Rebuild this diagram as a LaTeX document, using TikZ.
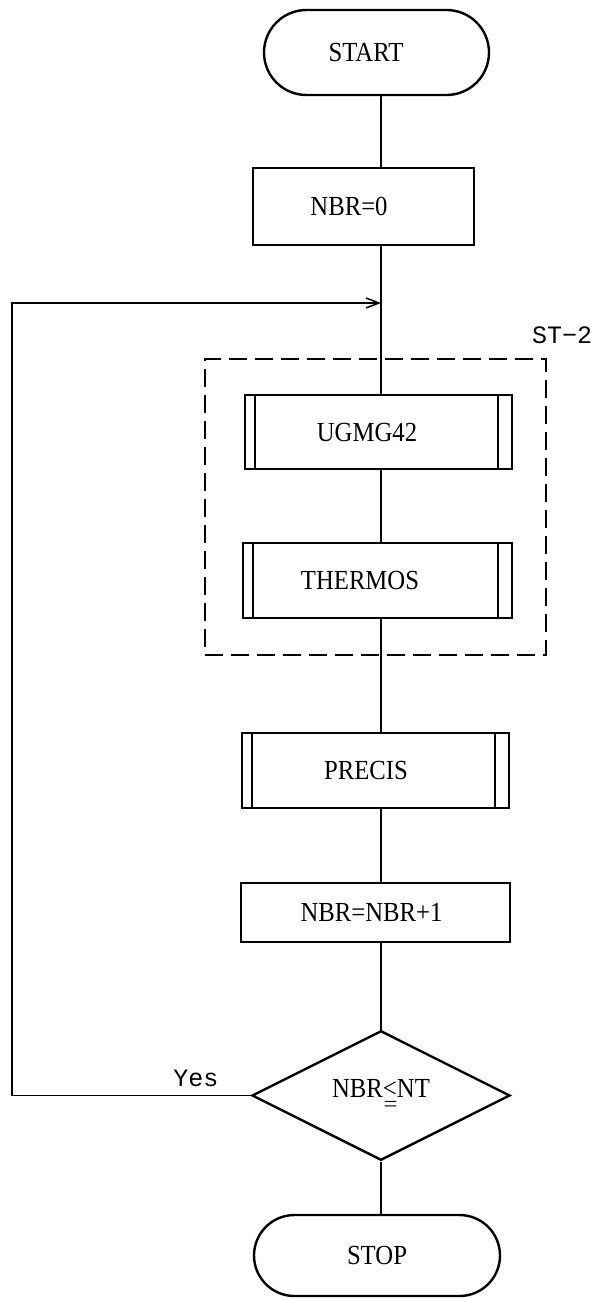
\documentclass[tikz,border=0pt]{standalone}
\usepackage{graphicx}
\usepackage{fontspec}
\setmainfont{Liberation Serif}
\setmonofont{Liberation Mono}
\usetikzlibrary{shapes.geometric,shapes.misc,arrows.meta}
\newcommand\tx[1]{\scalebox{1.03}[1.15]{#1}}
\newcommand\leqstack{\makebox[0pt][l]{\hspace{0.6pt}\raisebox{-12pt}{\scalebox{1}[0.8]{=}}}<}
\begin{document}
\begin{tikzpicture}[x=1pt,y=-1pt,
  every node/.style={font=\fontsize{24}{28}\selectfont, inner sep=0pt},
  box/.style={draw, line width=2.4pt, rectangle},
  term/.style={draw, line width=2.4pt, rounded rectangle},
  subr/.style={box, path picture={
      \draw[line width=2.4pt]
        ([xshift=10pt]path picture bounding box.north west) -- ([xshift=10pt]path picture bounding box.south west)
        ([xshift=-14pt]path picture bounding box.north east) -- ([xshift=-14pt]path picture bounding box.south east);}},
  decision/.style={draw, line width=2.4pt, diamond},
  group/.style={draw, line width=2.2pt, dash pattern=on 18pt off 8pt},
  conn/.style={line width=1.5pt},
  lbl/.style={font=\ttfamily\fontsize{25}{28}\selectfont}
]
\useasboundingbox (0,0) rectangle (596,1298);

% nodes
\node[term, minimum width=225pt, minimum height=85pt] (start) at (376.5,52.5) {\tx{START}\hspace*{21pt}};
\node[box, minimum width=221pt, minimum height=77pt] (init) at (363.5,206.5) {\raisebox{-6pt}{\tx{NBR=0}}\hspace*{29pt}};
\node[group, minimum width=341pt, minimum height=296pt] (grp) at (375.5,507) {};
\node[lbl] (st2) at (562,335) {ST−2};
\node[subr, minimum width=267pt, minimum height=74pt] (ugmg) at (378.5,432) {\tx{UGMG42}\hspace*{23pt}};
\node[subr, minimum width=269pt, minimum height=75pt] (thermos) at (377.5,580.5) {\tx{THERMOS}\hspace*{35pt}};
\node[subr, minimum width=267pt, minimum height=75pt] (precis) at (375.5,770.5) {\tx{PRECIS}\hspace*{19pt}};
\node[box, minimum width=269pt, minimum height=59pt] (incr) at (375.5,912.5) {\raisebox{-3pt}{\tx{NBR=NBR+1}}\hspace*{8pt}};
\node[decision, minimum width=258pt, minimum height=129pt] (dec) at (381,1095.5) {\tx{NBR\leqstack NT}};
\node[lbl] (yes) at (196,1078) {Yes};
\node[term, minimum width=246pt, minimum height=81pt] (stop) at (377,1255.5) {\tx{STOP}};

% helper coordinates
\coordinate (ax) at (381,0);
\coordinate (lb) at (12,1095.5);
\coordinate (lt) at (12,303);
\coordinate (merge) at (381,303);

% connectors
\draw[conn] (start.south -| ax) -- (init.north -| ax);
\draw[conn] (init.south -| ax) -- (ugmg.north -| ax);
\draw[conn] (ugmg.south -| ax) -- (thermos.north -| ax);
\draw[conn] (thermos.south -| ax) -- (precis.north -| ax);
\draw[conn] (precis.south -| ax) -- (incr.north -| ax);
\draw[conn] (incr.south -| ax) -- (dec.north);
\draw[conn] (dec.south) -- (stop.north -| ax);
\draw[conn, -{Straight Barb[length=13pt,width=10pt,line width=1.5pt]}] (dec.west) -- (lb) -- (lt) -- (merge);
\end{tikzpicture}
\end{document}
